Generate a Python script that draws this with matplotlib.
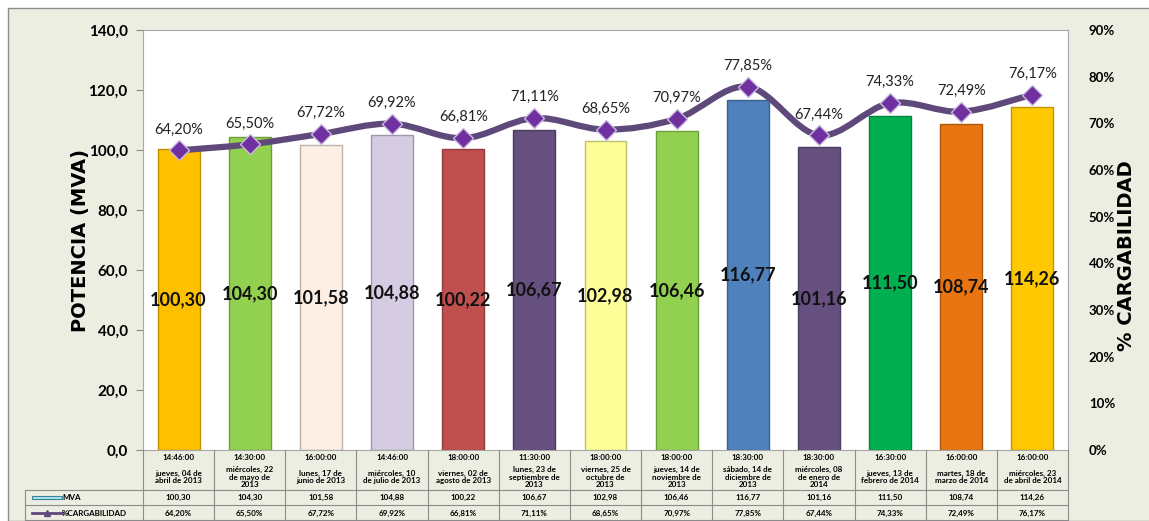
import numpy as np
import matplotlib
matplotlib.use("Agg")
import matplotlib.pyplot as plt
from matplotlib.path import Path
from matplotlib.patches import PathPatch, Rectangle
from matplotlib.lines import Line2D

plt.rcParams['font.family'] = ['Lato', 'DejaVu Sans']

horas = ["14:46:00", "14:30:00", "16:00:00", "14:46:00", "18:00:00", "11:30:00", "18:00:00",
         "18:00:00", "18:30:00", "18:30:00", "16:30:00", "16:00:00", "16:00:00"]
fechas = ["jueves, 04 de\nabril de 2013", "miércoles, 22\nde mayo de\n2013", "lunes, 17 de\njunio de 2013",
          "miércoles, 10\nde julio de 2013", "viernes, 02 de\nagosto de 2013", "lunes, 23 de\nseptiembre de\n2013",
          "viernes, 25 de\noctubre de\n2013", "jueves, 14 de\nnoviembre de\n2013", "sábado, 14 de\ndiciembre de\n2013",
          "miércoles, 08\nde enero de\n2014", "jueves, 13 de\nfebrero de 2014", "martes, 18 de\nmarzo de 2014",
          "miércoles, 23\nde abril de 2014"]
mva = [100.30, 104.30, 101.58, 104.88, 100.22, 106.67, 102.98, 106.46, 116.77, 101.16, 111.50, 108.74, 114.26]
carga = [64.20, 65.50, 67.72, 69.92, 66.81, 71.11, 68.65, 70.97, 77.85, 67.44, 74.33, 72.49, 76.17]
colores = ["#FFC000", "#92D050", "#FDEFE3", "#D5CBE3", "#C0504D", "#65507F", "#FFFF99",
           "#92D050", "#4F81BD", "#65507F", "#00B050", "#E87511", "#FFC800"]


def coma(v, d=2):
    return f"{v:.{d}f}".replace(".", ",")


def darker(c, f=0.75):
    r, g, b = matplotlib.colors.to_rgb(c)
    return (r * f, g * f, b * f)


W, H = 1149, 521
fig = plt.figure(figsize=(W / 100, H / 100), dpi=100, facecolor="white")
bg = "#ECEEE1"
fig.patches.append(Rectangle((8 / W, 0), 1, 1 - 8 / H, transform=fig.transFigure,
                             facecolor=bg, edgecolor="#8C8C8C", lw=1, zorder=-10))

L, R, T, B = 143, 1068, 30, 450
ax = fig.add_axes([L / W, 1 - B / H, (R - L) / W, (B - T) / H])
ax.set_facecolor("white")
n = len(mva)
x = np.arange(n)
ax.bar(x, mva, width=0.59, color=colores, edgecolor=[darker(c) for c in colores], linewidth=1, zorder=2)
for xi, v in zip(x, mva):
    ax.text(xi, v / 2, coma(v), ha="center", va="center", fontsize=13, fontweight="bold", color="#111111", zorder=5)
ax.set_xlim(-0.5, n - 0.5)
ax.set_ylim(0, 140)
ax.set_yticks(np.arange(0, 141, 20))
ax.set_yticklabels([coma(v, 1) for v in np.arange(0, 141, 20)], fontsize=11, fontweight="bold")
ax.set_xticks([])
ax.tick_params(axis="y", length=5, color="#8C8C8C", pad=6)
for s in ax.spines.values():
    s.set_color("#A6A6A6")
ax.set_ylabel("POTENCIA (MVA)", fontsize=14, fontweight="bold", labelpad=-1, family="DejaVu Sans")

ax2 = ax.twinx()
ax2.set_ylim(0, 90)
ax2.set_yticks(np.arange(0, 91, 10))
ax2.set_yticklabels([f"{v}%" for v in range(0, 91, 10)], fontsize=9.5, fontweight="bold")
ax2.tick_params(axis="y", length=0, pad=15)
for s in ax2.spines.values():
    s.set_visible(False)
fig.text(1127 / W, 1 - 256 / H, "% CARGABILIDAD", rotation=90, ha="center", va="center",
         fontsize=14, fontweight="bold", family="DejaVu Sans")

# smoothed line (Catmull-Rom as Bezier segments)
pts = np.column_stack([x, carga]).astype(float)
verts = [tuple(pts[0])]
codes = [Path.MOVETO]
for i in range(n - 1):
    p0 = pts[max(i - 1, 0)]
    p1 = pts[i]
    p2 = pts[i + 1]
    p3 = pts[min(i + 2, n - 1)]
    c1 = p1 + (p2 - p0) / 6
    c2 = p2 - (p3 - p1) / 6
    verts += [tuple(c1), tuple(c2), tuple(p2)]
    codes += [Path.CURVE4] * 3
ax2.add_patch(PathPatch(Path(verts, codes), facecolor="none", edgecolor="#5F497A", lw=4.5, zorder=3))
ax2.plot(x, carga, ls="none", marker="D", ms=10, mfc="#7030A0", mec="#C9B8E0", mew=1, zorder=4)
for xi, v in zip(x, carga):
    ax2.annotate(f"{coma(v)}%", (xi, v), xytext=(0, 10), textcoords="offset points",
                 ha="center", va="bottom", fontsize=10.5, color="#222222")

# data table
tab = fig.add_axes([0, 0, 1, 1], facecolor="none")
tab.set_xlim(0, W)
tab.set_ylim(H, 0)
tab.axis("off")
cw = (R - L) / n
gc = "#8C8C8C"
for i in range(n + 1):
    tab.plot([L + i * cw] * 2, [B, H], color=gc, lw=0.8)
for yy in (490, 505, 520):
    tab.plot([25, R], [yy, yy], color=gc, lw=0.8)
tab.plot([25, 25], [490, 520], color=gc, lw=0.8)
for i in range(n):
    cx = L + (i + 0.5) * cw
    tab.text(cx, 457, horas[i], ha="center", va="center", fontsize=5.8, fontweight="bold")
    tab.text(cx, 477, fechas[i], ha="center", va="center", fontsize=5.8, fontweight="bold", linespacing=1.1)
    tab.text(cx, 497.5, coma(mva[i]), ha="center", va="center", fontsize=5.8, fontweight="bold")
    tab.text(cx, 513, f"{coma(carga[i])}%", ha="center", va="center", fontsize=5.8, fontweight="bold")
tab.add_patch(Rectangle((32, 495.5), 30, 3.5, facecolor="#B7DEE8", edgecolor="#31859C", lw=0.8))
tab.text(62, 497.5, "MVA", ha="left", va="center", fontsize=5.8, fontweight="bold")
tab.add_line(Line2D([32, 62], [513, 513], color="#5F497A", lw=2))
tab.plot([47], [513], marker="^", ms=5, color="#5F497A")
tab.text(62, 513, "%CARGABILIDAD", ha="left", va="center", fontsize=5.8, fontweight="bold")

fig.savefig("out.png", dpi=100, facecolor=fig.get_facecolor())
